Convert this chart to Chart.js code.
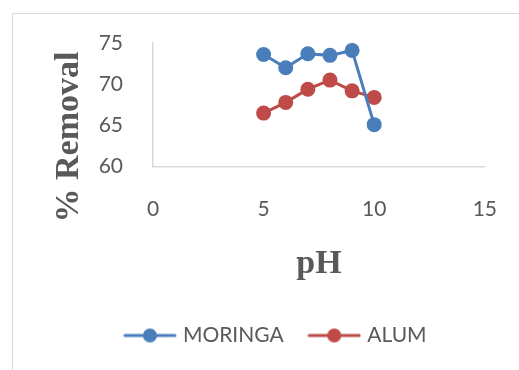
<!DOCTYPE html>
<html>
<head>
<meta charset="utf-8">
<script src="https://cdn.jsdelivr.net/npm/chart.js@4/dist/chart.umd.min.js"></script>
<style>
  html, body { margin: 0; padding: 0; background: #fff; overflow: hidden; }
  #wrap { position: relative; width: 519px; height: 370px; }
  #frame { position: absolute; left: 12px; top: 13px; width: 600px; height: 400px;
           border-left: 1.5px solid #d9d9d9; border-top: 1.5px solid #d9d9d9; }
  canvas { position: absolute; left: 0; top: 0; }
</style>
</head>
<body>
<div id="wrap">
  <div id="frame"></div>
  <canvas id="c" width="519" height="370"></canvas>
</div>
<script>
// pH values and percent removal for each coagulant
const pH = [5, 6, 7, 8, 9, 10];
const moringa = [73.6, 72.0, 73.7, 73.5, 74.1, 65.1];
const alum = [66.5, 67.8, 69.4, 70.5, 69.2, 68.4];
const xTicks = [0, 5, 10, 15];
const yTicks = [60, 65, 70, 75];

const BLUE = '#4A7EBB';
const RED = '#BE4B48';
const GREY = '#595959';
const TICK_FONT = { family: 'Lato, "Open Sans", sans-serif', size: 21 };

function toPoints(ys) { return pH.map((x, i) => ({ x: x, y: ys[i] })); }

// legend symbol: short line with a dot on it
function legendSymbol(color) {
  const c = document.createElement('canvas');
  c.width = 54; c.height = 16;
  const g = c.getContext('2d');
  g.strokeStyle = color; g.lineWidth = 3; g.lineCap = 'round';
  g.beginPath(); g.moveTo(2, 8); g.lineTo(52, 8); g.stroke();
  g.fillStyle = color;
  g.beginPath(); g.arc(27, 8, 7, 0, Math.PI * 2); g.fill();
  return c;
}

// bold serif axis titles
const axisTitles = {
  id: 'axisTitles',
  afterDraw(chart) {
    const ctx = chart.ctx;
    ctx.save();
    ctx.fillStyle = GREY;
    ctx.font = 'bold 34px "Liberation Serif", "Times New Roman", serif';
    ctx.textAlign = 'center';
    ctx.textBaseline = 'alphabetic';
    ctx.fillText('pH', chart.chartArea.left + (chart.chartArea.right - chart.chartArea.left) / 2, 273);
    ctx.translate(78, 137);
    ctx.rotate(-Math.PI / 2);
    ctx.fillText('% Removal', 0, 0);
    ctx.restore();
  }
};

new Chart(document.getElementById('c'), {
  type: 'scatter',
  data: {
    datasets: [
      { label: 'MORINGA', data: toPoints(moringa), showLine: true,
        borderColor: BLUE, backgroundColor: BLUE, borderWidth: 3,
        pointRadius: 7.5, pointHoverRadius: 7.5, pointBorderWidth: 0, tension: 0 },
      { label: 'ALUM', data: toPoints(alum), showLine: true,
        borderColor: RED, backgroundColor: RED, borderWidth: 3,
        pointRadius: 7.5, pointHoverRadius: 7.5, pointBorderWidth: 0, tension: 0 }
    ]
  },
  options: {
    responsive: false,
    animation: false,
    layout: { padding: { left: 54, right: 19, top: 43, bottom: 14 } },
    plugins: {
      tooltip: { enabled: false },
      legend: {
        position: 'bottom',
        labels: {
          usePointStyle: true,
          pointStyleWidth: 45,
          padding: 28,
          color: GREY,
          font: TICK_FONT,
          generateLabels(chart) {
            return chart.data.datasets.map((d, i) => ({
              text: d.label,
              pointStyle: legendSymbol(d.borderColor),
              fillStyle: d.borderColor,
              strokeStyle: d.borderColor,
              lineWidth: 0,
              fontColor: GREY,
              datasetIndex: i,
              hidden: false
            }));
          }
        }
      }
    },
    scales: {
      x: {
        type: 'linear', min: 0, max: 15,
        afterBuildTicks(s) { s.ticks = xTicks.map(v => ({ value: v })); },
        afterFit(s) { s.height = 130.3; },
        grid: { display: false },
        border: { color: '#d9d9d9', width: 1.5 },
        ticks: { color: GREY, font: TICK_FONT, padding: 22, maxRotation: 0 }
      },
      y: {
        type: 'linear', min: 60, max: 75,
        afterBuildTicks(s) { s.ticks = yTicks.map(v => ({ value: v })); },
        afterFit(s) { s.width = 99; },
        grid: { display: false },
        border: { color: '#d9d9d9', width: 1.5 },
        ticks: { color: GREY, font: TICK_FONT, padding: 22 }
      }
    }
  },
  plugins: [axisTitles]
});
</script>
</body>
</html>
